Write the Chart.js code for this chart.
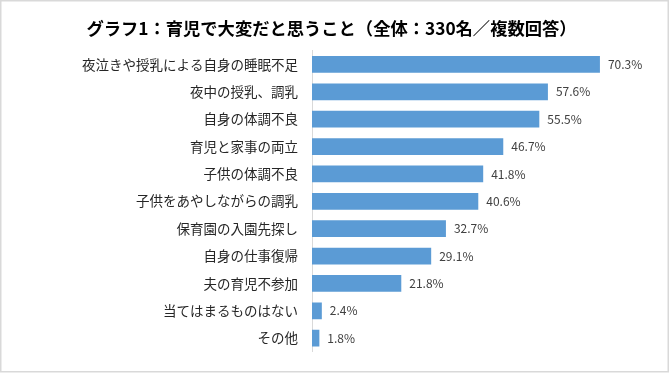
<!DOCTYPE html>
<html>
<head>
<meta charset="utf-8">
<script src="https://cdn.jsdelivr.net/npm/chart.js@4"></script>
<style>
  body { margin: 0; background: #fff; }
  .wrap { width: 670px; height: 374px; position: relative; }
</style>
</head>
<body>
<div class="wrap"><canvas id="myChart" width="670" height="374"></canvas></div>
<script>
// data
const categories = ['夜泣きや授乳による自身の睡眠不足', '夜中の授乳、調乳', '自身の体調不良', '育児と家事の両立',
                    '子供の体調不良', '子供をあやしながらの調乳', '保育園の入園先探し', '自身の仕事復帰',
                    '夫の育児不参加', '当てはまるものはない', 'その他']
const values = [70.3, 57.6, 55.5, 46.7, 41.8, 40.6, 32.7, 29.1, 21.8, 2.4, 1.8]

const font = '"Noto Sans CJK JP", "Noto Sans", sans-serif'

// value labels next to bars
const valueLabels = {
    id: 'valueLabels',
    afterDatasetsDraw(chart) {
        const ctx = chart.ctx
        const meta = chart.getDatasetMeta(0)
        ctx.save()
        ctx.font = '12px ' + font
        ctx.fillStyle = '#404040'
        ctx.textBaseline = 'middle'
        meta.data.forEach((bar, i) => {
            ctx.fillText(values[i].toFixed(1) + '%', bar.x + 8, bar.y)
        })
        ctx.restore()
    }
}

// light frame round the picture
const frame = {
    id: 'frame',
    afterDraw(chart) {
        const ctx = chart.ctx
        ctx.save()
        ctx.strokeStyle = '#d9d9d9'
        ctx.lineWidth = 1.5
        ctx.strokeRect(0.75, 0.75, 667.5, 371)
        ctx.restore()
    }
}

const ctx = document.getElementById('myChart').getContext('2d')
new Chart(ctx, {
    type: 'bar',
    data: {
        labels: categories,
        datasets: [{
            data: values,
            backgroundColor: '#5b9bd5',
            categoryPercentage: 1,
            barPercentage: 0.61
        }]
    },
    options: {
        indexAxis: 'y',
        responsive: false,
        animation: false,
        layout: {
            padding: { left: 0, right: 7, top: 0, bottom: 15 }
        },
        scales: {
            x: {
                display: false,
                min: 0,
                max: 85.7
            },
            y: {
                grid: { display: false, drawTicks: false },
                border: { color: '#d9d9d9', width: 1 },
                ticks: {
                    color: '#262626',
                    padding: 14,
                    font: { family: font, size: 13.5 }
                },
                afterFit(scale) {
                    scale.width = 312
                }
            }
        },
        plugins: {
            legend: { display: false },
            tooltip: { enabled: false },
            title: {
                display: true,
                text: 'グラフ1：育児で大変だと思うこと（全体：330名／複数回答）',
                color: '#000',
                font: { family: font, size: 17.3, weight: 'bold' },
                padding: { top: 18, bottom: 12 }
            }
        }
    },
    plugins: [valueLabels, frame]
})
</script>
</body>
</html>
